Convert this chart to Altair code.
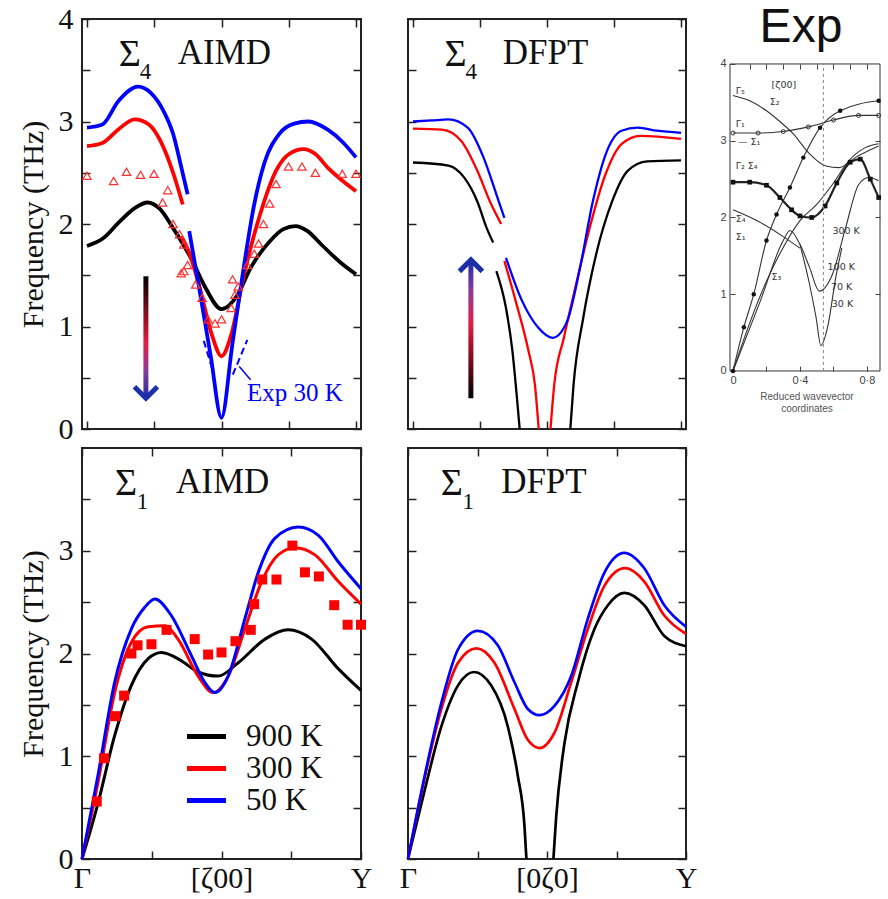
import altair as alt
import pandas as pd

SERIF = 'Liberation Serif'
SANS = 'Liberation Sans'
TEMPS = ['900 K', '300 K', '50 K']
TEMP_COLORS = ['#000000', '#ff0000', '#0000ff']

X_TICKS = [0, 0.25, 0.5, 0.75, 1]
Y_TICKS_TOP = [0, 0.5, 1, 1.5, 2, 2.5, 3, 3.5, 4]
Y_TICKS_BOTTOM = [0, 0.5, 1, 1.5, 2, 2.5, 3, 3.5]

# ---------------- Sigma4, AIMD (top left) ----------------
s4_aimd_50 = [
    [(0, 2.94), (0.057, 2.97), (0.117, 3.2), (0.19, 3.34), (0.237, 3.28), (0.285, 3.1),
     (0.32, 2.88), (0.35, 2.56), (0.374, 2.29)],
    [(0.38, 1.93), (0.42, 1.33), (0.46, 0.71), (0.5, 0.11), (0.54, 0.82), (0.584, 1.6),
     (0.62, 2.17), (0.66, 2.6), (0.715, 2.88), (0.77, 2.98), (0.823, 3.0), (0.895, 2.92),
     (0.95, 2.8), (1.0, 2.65)],
]
s4_aimd_300 = [
    [(0, 2.76), (0.057, 2.79), (0.12, 2.93), (0.177, 3.02), (0.23, 2.97), (0.273, 2.81),
     (0.32, 2.5), (0.356, 2.19)],
    [(0.35, 1.88), (0.38, 1.72), (0.416, 1.41), (0.464, 0.92), (0.5, 0.71), (0.536, 0.92),
     (0.584, 1.51), (0.643, 2.09), (0.703, 2.52), (0.75, 2.68), (0.805, 2.73), (0.85, 2.68),
     (0.895, 2.55), (1.0, 2.32)],
]
s4_aimd_900 = [
    [(0, 1.785), (0.06, 1.86), (0.12, 2.02), (0.18, 2.16), (0.225, 2.21), (0.27, 2.15),
     (0.32, 1.96), (0.392, 1.64), (0.44, 1.38), (0.5, 1.17), (0.56, 1.31), (0.608, 1.57),
     (0.679, 1.83), (0.73, 1.95), (0.775, 1.98), (0.82, 1.93), (0.871, 1.8), (0.94, 1.63),
     (1.0, 1.51)],
]
s4_exp_tri_x = [0.0, 0.099, 0.147, 0.199, 0.249, 0.281, 0.3, 0.32, 0.344, 0.36, 0.374, 0.35,
                0.36, 0.404, 0.428, 0.45, 0.476, 0.5, 0.536, 0.541, 0.55, 0.562, 0.596, 0.622,
                0.638, 0.656, 0.679, 0.703, 0.749, 0.799, 0.849, 0.949, 1.0]
s4_exp_tri_y = [2.47, 2.42, 2.51, 2.48, 2.49, 2.21, 2.33, 2.0, 1.9, 1.8, 1.6, 1.52,
                1.54, 1.41, 1.28, 1.07, 1.03, 1.07, 1.18, 1.46, 1.31, 1.39, 1.6, 1.71,
                1.81, 2.0, 2.2, 2.39, 2.56, 2.56, 2.5, 2.49, 2.49]
exp30_left = [(0.434, 0.86), (0.464, 0.6)]
exp30_right = [(0.542, 0.53), (0.596, 0.87)]
exp30_leader = [(0.566, 0.61), (0.608, 0.48)]

# ---------------- Sigma4, DFPT (top right) ----------------
s4_dfpt_50 = [
    [(0, 3.0), (0.07, 3.01), (0.132, 3.02), (0.204, 2.94), (0.263, 2.65), (0.311, 2.29),
     (0.341, 2.06)],
    [(0.347, 1.67), (0.407, 1.25), (0.467, 0.99), (0.521, 0.89), (0.575, 1.05), (0.623, 1.57),
     (0.671, 2.22), (0.719, 2.68), (0.778, 2.91), (0.838, 2.94), (0.91, 2.91), (1.0, 2.89)],
]
s4_dfpt_300 = [
    [(0, 2.93), (0.108, 2.92), (0.18, 2.81), (0.24, 2.52), (0.287, 2.22), (0.329, 2.0)],
    [(0.341, 1.64), (0.383, 1.25), (0.431, 0.76), (0.455, 0.43), (0.469, 0.0)],
    [(0.513, 0.0), (0.527, 0.43), (0.563, 0.89), (0.611, 1.44), (0.659, 1.96), (0.719, 2.49),
     (0.778, 2.78), (0.85, 2.86), (1.0, 2.83)],
]
s4_dfpt_900 = [
    [(0, 2.6), (0.132, 2.57), (0.192, 2.45), (0.24, 2.22), (0.275, 1.96), (0.299, 1.82)],
    [(0.311, 1.54), (0.347, 1.18), (0.371, 0.76), (0.389, 0.27), (0.398, 0.0)],
    [(0.587, 0.0), (0.599, 0.43), (0.635, 1.08), (0.683, 1.7), (0.743, 2.22), (0.802, 2.52),
     (0.874, 2.61), (1.0, 2.62)],
]

# ---------------- Sigma1, AIMD (bottom left) ----------------
s1_aimd_50 = [
    [(0, 0), (0.057, 0.81), (0.117, 1.72), (0.177, 2.24), (0.225, 2.45), (0.261, 2.53),
     (0.32, 2.37), (0.392, 1.98), (0.44, 1.72), (0.476, 1.62), (0.524, 1.78), (0.584, 2.34),
     (0.632, 2.79), (0.691, 3.12), (0.775, 3.23), (0.847, 3.15), (0.919, 2.89), (1.0, 2.63)],
]
s1_aimd_300 = [
    [(0, 0), (0.057, 0.74), (0.117, 1.62), (0.177, 2.11), (0.237, 2.26), (0.297, 2.27),
     (0.344, 2.14), (0.416, 1.78), (0.47, 1.62), (0.524, 1.78), (0.584, 2.24), (0.644, 2.7),
     (0.703, 2.96), (0.763, 3.03), (0.835, 2.96), (0.919, 2.7), (1.0, 2.48)],
]
s1_aimd_900 = [
    [(0, 0), (0.057, 0.54), (0.117, 1.2), (0.177, 1.69), (0.237, 1.95), (0.285, 2.01),
     (0.356, 1.93), (0.416, 1.82), (0.488, 1.78), (0.56, 1.91), (0.656, 2.14), (0.739, 2.23),
     (0.823, 2.14), (0.919, 1.85), (1.0, 1.64)],
]
s1_exp_sq_x = [0.053, 0.079, 0.12, 0.151, 0.177, 0.199, 0.249, 0.303, 0.404, 0.452, 0.5,
               0.55, 0.605, 0.617, 0.646, 0.697, 0.754, 0.799, 0.849, 0.904, 0.952, 1.0]
s1_exp_sq_y = [0.56, 0.98, 1.39, 1.59, 2.0, 2.08, 2.09, 2.23, 2.14, 1.99, 2.01,
               2.12, 2.23, 2.48, 2.72, 2.72, 3.05, 2.79, 2.75, 2.47, 2.28, 2.28]

# ---------------- Sigma1, DFPT (bottom right) ----------------
s1_dfpt_50 = [
    [(0, 0), (0.06, 0.81), (0.12, 1.52), (0.18, 2.04), (0.251, 2.22), (0.323, 2.08),
     (0.383, 1.72), (0.431, 1.46), (0.473, 1.4), (0.527, 1.49), (0.587, 1.78), (0.647, 2.34),
     (0.707, 2.79), (0.778, 2.98), (0.85, 2.83), (0.922, 2.47), (1.0, 2.26)],
]
s1_dfpt_300 = [
    [(0, 0), (0.06, 0.79), (0.12, 1.46), (0.18, 1.91), (0.246, 2.05), (0.311, 1.91),
     (0.383, 1.46), (0.431, 1.16), (0.473, 1.08), (0.527, 1.23), (0.587, 1.72), (0.647, 2.24),
     (0.707, 2.66), (0.781, 2.83), (0.85, 2.7), (0.922, 2.37), (1.0, 2.19)],
]
s1_dfpt_900 = [
    [(0, 0), (0.06, 0.67), (0.12, 1.29), (0.18, 1.69), (0.237, 1.82), (0.299, 1.69),
     (0.359, 1.29), (0.395, 0.81), (0.419, 0.32), (0.426, 0.0)],
    [(0.523, 0.0), (0.533, 0.41), (0.563, 1.13), (0.611, 1.72), (0.671, 2.24), (0.719, 2.47),
     (0.778, 2.59), (0.85, 2.47), (0.922, 2.17), (1.0, 2.07)],
]

# ---------------- Experimental inset ----------------
exp_sigma2 = [(0, 3.59), (0.1, 3.52), (0.2, 3.39), (0.28, 3.25), (0.36, 3.09), (0.457, 2.83),
              (0.555, 2.67), (0.633, 2.65), (0.73, 2.78), (0.87, 2.93)]
exp_sigma1_top = [(0, 3.1), (0.15, 3.1), (0.3, 3.12), (0.45, 3.18), (0.6, 3.27), (0.75, 3.33),
                  (0.87, 3.33)]
exp_sigma4_300 = [(0, 2.46), (0.1, 2.46), (0.2, 2.42), (0.28, 2.26), (0.35, 2.1), (0.4, 2.02),
                  (0.47, 2.0), (0.55, 2.15), (0.62, 2.45), (0.7, 2.72), (0.76, 2.76), (0.82, 2.5),
                  (0.87, 2.26)]
exp_steep = [(0, 0), (0.065, 0.57), (0.124, 1.0), (0.2, 1.7), (0.26, 2.04), (0.34, 2.39),
             (0.42, 2.78), (0.52, 3.17), (0.64, 3.39), (0.87, 3.52)]
exp_acoustic = [(0, 0), (0.104, 0.65), (0.2, 1.17), (0.3, 1.61), (0.4, 1.96), (0.5, 2.17),
                (0.594, 2.43), (0.692, 2.74), (0.79, 2.91), (0.87, 2.96)]
exp_sigma3_300 = [(0, 0), (0.163, 0.91), (0.3, 1.7), (0.34, 1.83), (0.4, 1.65), (0.457, 1.35),
                  (0.516, 1.04), (0.594, 1.26), (0.673, 1.87), (0.751, 2.43), (0.81, 2.52),
                  (0.87, 2.48)]
exp_sigma3_30 = [(0.4, 1.65), (0.457, 1.13), (0.496, 0.7), (0.525, 0.33), (0.565, 0.57),
                 (0.614, 1.22), (0.65, 1.6)]
exp_sigma4_low = [(0, 2.1), (0.15, 1.95), (0.3, 1.75), (0.4, 1.6)]
exp_labels = ['Γ₅', '[ζ00]', 'Σ₂', 'Γ₁', '— Σ₁', 'Γ₂ Σ₄', 'Σ₄', 'Σ₁', 'Σ₃',
              '300 K', '100 K', '70 K', '30 K']
exp_label_x = [0.016, 0.23, 0.22, 0.016, 0.03, 0.016, 0.016, 0.016, 0.23,
               0.594, 0.565, 0.585, 0.59]
exp_label_y = [3.65, 3.72, 3.5, 3.22, 2.98, 2.67, 1.98, 1.74, 1.22,
               1.83, 1.35, 1.1, 0.87]


def curves_df(groups):
    rows = []
    for temp, segs in groups:
        for i, seg in enumerate(segs):
            for x, y in seg:
                rows.append({'x': x, 'y': y, 'temp': temp, 'seg': f'{temp}-{i}'})
    return pd.DataFrame(rows)


XS = alt.Scale(domain=[0, 1], nice=False, zero=False)
YS = alt.Scale(domain=[0, 4], nice=False, zero=False)
COMMON_AX = dict(tickSize=8, domain=False, grid=False, tickColor='#222', tickWidth=1.5,
                 labelFont=SERIF, labelFontSize=30, labelColor='#111',
                 labelOverlap=False, labelFlush=False)


def panel(groups, lw, sub, method, method_x, show_y, bottom_row, x_mid, width, height,
          extra=(), legend=None):
    yticks = Y_TICKS_BOTTOM if bottom_row else Y_TICKS_TOP
    left = alt.Axis(orient='left', values=yticks, offset=-8, labels=show_y,
                    labelExpr="datum.value % 1 == 0 ? '' + datum.value : ''", labelPadding=9,
                    title='Frequency (THz)' if show_y else None, titleFont=SERIF,
                    titleFontSize=30, titleFontWeight='normal', titleColor='#111',
                    titlePadding=10, **COMMON_AX)
    bottom = alt.Axis(orient='bottom', values=X_TICKS, offset=-8, labels=bottom_row,
                      labelExpr=("datum.value == 0 ? 'Γ' : datum.value == 0.5 ? '"
                                 + x_mid + "' : datum.value == 1 ? 'Y' : ''"),
                      labelPadding=4, title=None, **COMMON_AX)
    top = alt.Axis(orient='top', values=X_TICKS, offset=-8, labels=False, title=None,
                   **COMMON_AX)
    right = alt.Axis(orient='right', values=Y_TICKS_TOP, offset=-8, labels=False,
                     title=None, **COMMON_AX)
    df = curves_df(groups)
    lines = alt.Chart(df).mark_line(strokeWidth=lw, interpolate='monotone').encode(
        x=alt.X('x:Q', scale=XS, axis=bottom),
        y=alt.Y('y:Q', scale=YS, axis=left),
        color=alt.Color('temp:N', scale=alt.Scale(domain=TEMPS, range=TEMP_COLORS),
                        legend=legend),
        detail='seg:N',
    )
    lab = pd.DataFrame({'x': [0.118, 0.196, method_x], 'y': [3.54, 3.41, 3.56],
                        't': ['Σ', sub, method], 'fs': [38, 23, 35]})
    texts = alt.Chart(lab).mark_text(align='left', baseline='alphabetic', font=SERIF,
                                     color='#111').encode(
        x=alt.X('x:Q', scale=XS, axis=top),
        y=alt.Y('y:Q', scale=YS, axis=right),
        text='t:N',
        size=alt.Size('fs:Q', scale=None),
    )
    return alt.layer(lines, texts, *extra).resolve_axis(
        x='independent', y='independent').properties(width=width, height=height)


def xy(df_x, df_y):
    return dict(x=alt.X(df_x, scale=XS, axis=None), y=alt.Y(df_y, scale=YS, axis=None))


def arrow(ax, y_from, y_to, stops, head):
    shaft = alt.Chart(pd.DataFrame({'x': [ax], 'a': [y_from], 'b': [y_to]})).mark_bar(
        width=5,
        fill=alt.Gradient(gradient='linear',
                          stops=[alt.GradientStop(color=c, offset=o) for o, c in stops],
                          x1=0, x2=0, y1=0, y2=1)).encode(
        x=alt.X('x:Q', scale=XS, axis=None), y=alt.Y('a:Q', scale=YS, axis=None),
        y2='b:Q')
    tip = alt.Chart(pd.DataFrame({'x': [ax], 'y': [y_to]})).mark_point(
        shape=head, filled=False, size=529, strokeWidth=5, color='#1a2fa8',
        opacity=1, strokeJoin='miter').encode(**xy('x:Q', 'y:Q'))
    return [shaft, tip]


# ---- extra layers of the top-left panel ----
tri = alt.Chart(pd.DataFrame({'x': s4_exp_tri_x, 'y': s4_exp_tri_y})).mark_point(
    shape='triangle-up', size=70, filled=False, color='#ff3030', strokeWidth=1.2,
    opacity=1).encode(**xy('x:Q', 'y:Q'))
dash_rows = ([{'x': x, 'y': y, 'g': 'l'} for x, y in exp30_left]
             + [{'x': x, 'y': y, 'g': 'r'} for x, y in exp30_right])
dashed = alt.Chart(pd.DataFrame(dash_rows)).mark_line(
    strokeDash=[7, 4], color='#0000ff', strokeWidth=2).encode(
    detail='g:N', **xy('x:Q', 'y:Q'))
leader = alt.Chart(pd.DataFrame(exp30_leader, columns=['x', 'y'])).mark_line(
    color='#0000ff', strokeWidth=1.5).encode(**xy('x:Q', 'y:Q'))
exp30_text = alt.Chart(pd.DataFrame({'x': [0.595], 'y': [0.27], 't': ['Exp 30 K']})).mark_text(
    align='left', baseline='alphabetic', font=SERIF, fontSize=25, color='#0000ff').encode(
    text='t:N', **xy('x:Q', 'y:Q'))
down_stops = [(0, '#000000'), (0.4, '#b0102a'), (0.55, '#e0204a'), (0.78, '#8a3a9a'),
              (1, '#1a2fa8')]
up_stops = [(0, '#1a2fa8'), (0.22, '#8a3a9a'), (0.45, '#e0204a'), (0.6, '#b0102a'),
            (1, '#000000')]

tl = panel([('900 K', s4_aimd_900), ('300 K', s4_aimd_300), ('50 K', s4_aimd_50)],
           3.8, '4', 'AIMD', 0.337, True, False, '[ζ00]', 279, 410,
           extra=[tri, dashed, leader, exp30_text]
           + arrow(0.219, 1.49, 0.30, down_stops, 'M-1,-1L0,0L1,-1'))
tr = panel([('900 K', s4_dfpt_900), ('300 K', s4_dfpt_300), ('50 K', s4_dfpt_50)],
           2.3, '4', 'DFPT', 0.335, False, False, '[0ζ0]', 278, 410,
           extra=arrow(0.216, 0.30, 1.65, up_stops, 'M-1,1L0,0L1,1'))

squares = alt.Chart(pd.DataFrame({'x': s1_exp_sq_x, 'y': s1_exp_sq_y})).mark_square(
    size=100, color='#ff0000', opacity=1).encode(**xy('x:Q', 'y:Q'))
legend_bl = alt.Legend(orient='none', legendX=109, legendY=273, title=None,
                       symbolType='M-2,0H2', symbolSize=380, symbolStrokeWidth=5,
                       labelFont=SERIF, labelFontSize=31, labelColor='#111',
                       labelOffset=24, rowPadding=0, padding=0)
bl = panel([('900 K', s1_aimd_900), ('300 K', s1_aimd_300), ('50 K', s1_aimd_50)],
           3.0, '1', 'AIMD', 0.337, True, True, '[ζ00]', 279, 411,
           extra=[squares], legend=legend_bl)
br = panel([('900 K', s1_dfpt_900), ('300 K', s1_dfpt_300), ('50 K', s1_dfpt_50)],
           2.7, '1', 'DFPT', 0.335, False, True, '[0ζ0]', 278, 411)

# ---------------- Experimental inset panel ----------------
EX = alt.Scale(domain=[0.0, 0.878], nice=False, zero=False)
EY = alt.Scale(domain=[-0.756, 4.586], nice=False, zero=False)
EXP_AX = dict(domain=False, grid=False, tickColor='#444', tickWidth=1, tickSize=5,
              labelFont=SANS, labelFontSize=11, labelColor='#444', labelOverlap=False,
              labelFlush=False)


def exy(fx, fy):
    return dict(x=alt.X(fx, scale=EX, axis=None), y=alt.Y(fy, scale=EY, axis=None))


exp_rows = []
for name, pts in [('s2', exp_sigma2), ('s1t', exp_sigma1_top), ('steep', exp_steep),
                  ('ac', exp_acoustic), ('s3', exp_sigma3_300), ('s3c', exp_sigma3_30),
                  ('s4l', exp_sigma4_low)]:
    for x, y in pts:
        exp_rows.append({'x': x, 'y': y, 'c': name})
exp_df = pd.DataFrame(exp_rows)

exp_lines = alt.Chart(exp_df).mark_line(color='#333', strokeWidth=1.1,
                                        interpolate='monotone').encode(
    x=alt.X('x:Q', scale=EX, axis=alt.Axis(
        orient='bottom', values=[0, 0.2, 0.4, 0.6, 0.8], offset=-63, labelPadding=3,
        labelExpr="datum.value == 0 ? '0' : datum.value == 0.4 ? '0·4' : datum.value == 0.8 ? '0·8' : ''",
        title=['Reduced wavevector', 'coordinates'], titleFont=SANS, titleFontSize=10,
        titleFontWeight='normal', titleColor='#555', titlePadding=6, **EXP_AX)),
    y=alt.Y('y:Q', scale=EY, axis=alt.Axis(
        orient='left', values=[0, 1, 2, 3, 4], offset=-2, labelPadding=4, title=None,
        **EXP_AX)),
    detail='c:N',
)
exp_thick = alt.Chart(pd.DataFrame(exp_sigma4_300, columns=['x', 'y'])).mark_line(
    color='#222', strokeWidth=2.2, interpolate='monotone').encode(**exy('x:Q', 'y:Q'))
exp_sq = alt.Chart(pd.DataFrame(exp_sigma4_300, columns=['x', 'y'])).mark_square(
    size=22, color='#111', opacity=1).encode(**exy('x:Q', 'y:Q'))
exp_dots = alt.Chart(pd.DataFrame(exp_steep, columns=['x', 'y'])).mark_circle(
    size=20, color='#111', opacity=1).encode(**exy('x:Q', 'y:Q'))
exp_open = alt.Chart(pd.DataFrame(exp_sigma1_top, columns=['x', 'y'])).mark_point(
    size=16, color='#333', filled=False, strokeWidth=1, opacity=1).encode(**exy('x:Q', 'y:Q'))
exp_frame = alt.Chart(pd.DataFrame({'x': [-0.018], 'x2': [0.878], 'y': [0], 'y2': [4]})).mark_rect(
    fillOpacity=0, stroke='#333', strokeWidth=1).encode(
    x=alt.X('x:Q', scale=EX, axis=alt.Axis(orient='top', values=[0.1, 0.2, 0.3, 0.4, 0.5, 0.6, 0.7, 0.8],
                                           offset=-50, labels=False, title=None, **EXP_AX)),
    x2='x2:Q',
    y=alt.Y('y:Q', scale=EY, axis=alt.Axis(orient='right', values=[1, 2, 3], offset=-5,
                                           labels=False, title=None, **EXP_AX)),
    y2='y2:Q')
exp_vline = alt.Chart(pd.DataFrame({'x': [0.54], 'a': [0], 'b': [4]})).mark_rule(
    strokeDash=[3, 3], color='#888', strokeWidth=1).encode(
    x=alt.X('x:Q', scale=EX, axis=None), y=alt.Y('a:Q', scale=EY, axis=None), y2='b:Q')
exp_text = alt.Chart(pd.DataFrame({'x': exp_label_x, 'y': exp_label_y, 't': exp_labels})).mark_text(
    align='left', baseline='middle', font='DejaVu Sans', fontSize=9.5, color='#333').encode(
    text='t:N', **exy('x:Q', 'y:Q'))
exp_title = alt.Chart(pd.DataFrame({'x': [0.406], 'y': [4.29], 't': ['Exp']})).mark_text(
    align='center', baseline='alphabetic', font=SANS, fontSize=48, color='#111').encode(
    text='t:N', **exy('x:Q', 'y:Q'))

exp_chart = alt.layer(exp_lines, exp_frame, exp_thick, exp_sq, exp_dots, exp_open,
                      exp_vline, exp_text, exp_title).resolve_axis(
    x='independent', y='independent').properties(
    width=147, height=410, view=alt.ViewBackground(strokeOpacity=0))

row1 = alt.hconcat(tl, tr, exp_chart, spacing=47, bounds='flush').resolve_scale(
    color='independent').resolve_legend(color='independent')
row2 = alt.hconcat(bl, br, spacing=47, bounds='flush').resolve_scale(
    color='independent').resolve_legend(color='independent')
chart = alt.vconcat(row1, row2, spacing=1, bounds='full').resolve_scale(
    color='independent').resolve_legend(color='independent').properties(
    padding={'left': 17, 'top': 3, 'right': 0, 'bottom': 0}
).configure_view(stroke='#222', strokeWidth=2)

chart.save('out.html', embed_options={'renderer': 'svg', 'actions': False})
